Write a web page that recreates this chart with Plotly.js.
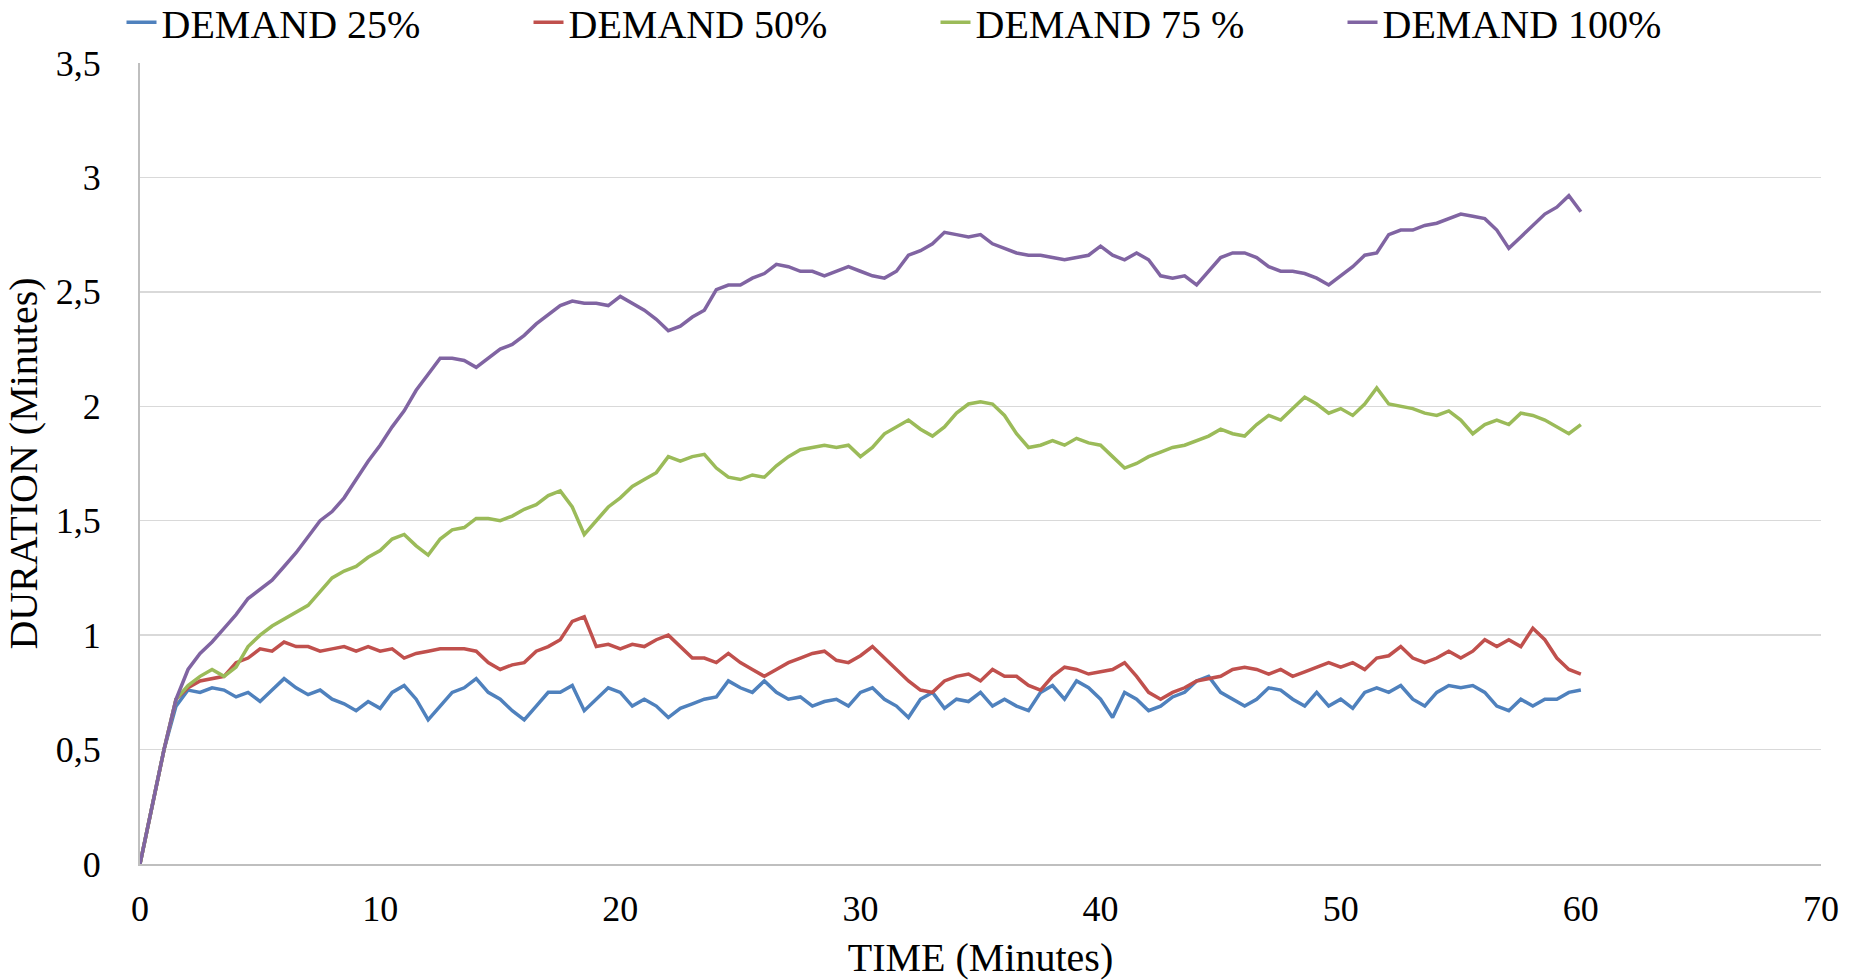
<!DOCTYPE html>
<html>
<head>
<meta charset="utf-8">
<script src="https://cdn.plot.ly/plotly-3.0.1.min.js"></script>
<style>html,body{margin:0;padding:0;background:#fff;}#chart{width:1858px;height:980px;}</style>
</head>
<body>
<div id="chart"></div>
<script>
const TIME = [0,0.5,1,1.5,2,2.5,3,3.5,4,4.5,5,5.5,6,6.5,7,7.5,8,8.5,9,9.5,10,10.5,11,11.5,12,12.5,13,13.5,14,14.5,15,15.5,16,16.5,17,17.5,18,18.5,19,19.5,20,20.5,21,21.5,22,22.5,23,23.5,24,24.5,25,25.5,26,26.5,27,27.5,28,28.5,29,29.5,30,30.5,31,31.5,32,32.5,33,33.5,34,34.5,35,35.5,36,36.5,37,37.5,38,38.5,39,39.5,40,40.5,41,41.5,42,42.5,43,43.5,44,44.5,45,45.5,46,46.5,47,47.5,48,48.5,49,49.5,50,50.5,51,51.5,52,52.5,53,53.5,54,54.5,55,55.5,56,56.5,57,57.5,58,58.5,59,59.5,60];

const DEMAND_25 = [0,0.25,0.5,
0.69,0.76,0.75,0.77,0.76,0.73,0.75,0.71,0.76,0.81,
0.77,0.74,0.76,0.72,0.70,0.67,0.71,0.68,0.75,0.78,
0.72,0.63,0.69,0.75,0.77,0.81,0.75,0.72,0.67,0.63,
0.69,0.75,0.75,0.78,0.67,0.72,0.77,0.75,0.69,0.72,
0.69,0.64,0.68,0.70,0.72,0.73,0.80,0.77,0.75,0.80,
0.75,0.72,0.73,0.69,0.71,0.72,0.69,0.75,0.77,0.72,
0.69,0.64,0.72,0.75,0.68,0.72,0.71,0.75,0.69,0.72,
0.69,0.67,0.75,0.78,0.72,0.80,0.77,0.72,0.64,0.75,
0.72,0.67,0.69,0.73,0.75,0.80,0.82,0.75,0.72,0.69,
0.72,0.77,0.76,0.72,0.69,0.75,0.69,0.72,0.68,0.75,
0.77,0.75,0.78,0.72,0.69,0.75,0.78,0.77,0.78,0.75,
0.69,0.67,0.72,0.69,0.72,0.72,0.75,0.76];

const DEMAND_50 = [0,0.25,0.5,
0.72,0.77,0.80,0.81,0.82,0.88,0.90,0.94,0.93,0.97,
0.95,0.95,0.93,0.94,0.95,0.93,0.95,0.93,0.94,0.90,
0.92,0.93,0.94,0.94,0.94,0.93,0.88,0.85,0.87,0.88,
0.93,0.95,0.98,1.06,1.08,0.95,0.96,0.94,0.96,0.95,
0.98,1.00,0.95,0.90,0.90,0.88,0.92,0.88,0.85,0.82,
0.85,0.88,0.90,0.92,0.93,0.89,0.88,0.91,0.95,0.90,
0.85,0.80,0.76,0.75,0.80,0.82,0.83,0.80,0.85,0.82,
0.82,0.78,0.76,0.82,0.86,0.85,0.83,0.84,0.85,0.88,
0.82,0.75,0.72,0.75,0.77,0.80,0.81,0.82,0.85,0.86,
0.85,0.83,0.85,0.82,0.84,0.86,0.88,0.86,0.88,0.85,
0.90,0.91,0.95,0.90,0.88,0.90,0.93,0.90,0.93,0.98,
0.95,0.98,0.95,1.03,0.98,0.90,0.85,0.83];

const DEMAND_75 = [0,0.25,0.5,
0.72,0.78,0.82,0.85,0.82,0.86,0.95,1.00,1.04,1.07,
1.10,1.13,1.19,1.25,1.28,1.30,1.34,1.37,1.42,1.44,
1.39,1.35,1.42,1.46,1.47,1.51,1.51,1.50,1.52,1.55,
1.57,1.61,1.63,1.56,1.44,1.50,1.56,1.60,1.65,1.68,
1.71,1.78,1.76,1.78,1.79,1.73,1.69,1.68,1.70,1.69,
1.74,1.78,1.81,1.82,1.83,1.82,1.83,1.78,1.82,1.88,
1.91,1.94,1.90,1.87,1.91,1.97,2.01,2.02,2.01,1.96,
1.88,1.82,1.83,1.85,1.83,1.86,1.84,1.83,1.78,1.73,
1.75,1.78,1.80,1.82,1.83,1.85,1.87,1.90,1.88,1.87,
1.92,1.96,1.94,1.99,2.04,2.01,1.97,1.99,1.96,2.01,
2.08,2.01,2.00,1.99,1.97,1.96,1.98,1.94,1.88,1.92,
1.94,1.92,1.97,1.96,1.94,1.91,1.88,1.92];

const DEMAND_100 = [0,0.25,0.5,
0.72,0.85,0.92,0.97,1.03,1.09,1.16,1.20,1.24,1.30,
1.36,1.43,1.50,1.54,1.60,1.68,1.76,1.83,1.91,1.98,
2.07,2.14,2.21,2.21,2.20,2.17,2.21,2.25,2.27,2.31,
2.36,2.40,2.44,2.46,2.45,2.45,2.44,2.48,2.45,2.42,
2.38,2.33,2.35,2.39,2.42,2.51,2.53,2.53,2.56,2.58,
2.62,2.61,2.59,2.59,2.57,2.59,2.61,2.59,2.57,2.56,
2.59,2.66,2.68,2.71,2.76,2.75,2.74,2.75,2.71,2.69,
2.67,2.66,2.66,2.65,2.64,2.65,2.66,2.70,2.66,2.64,
2.67,2.64,2.57,2.56,2.57,2.53,2.59,2.65,2.67,2.67,
2.65,2.61,2.59,2.59,2.58,2.56,2.53,2.57,2.61,2.66,
2.67,2.75,2.77,2.77,2.79,2.80,2.82,2.84,2.83,2.82,
2.77,2.69,2.74,2.79,2.84,2.87,2.92,2.85];

const SERIES_NAMES = ['DEMAND 25%','DEMAND 50%','DEMAND 75 %','DEMAND 100%'];
const SERIES_DATA = [DEMAND_25, DEMAND_50, DEMAND_75, DEMAND_100];
const COLORS = ['#4F81BD','#C0504D','#9BBB59','#8064A2'];

const FONT = 'Liberation Serif, Times New Roman, serif';

const traces = SERIES_DATA.map((ys, i) => ({
  x: TIME, y: ys, type: 'scatter', mode: 'lines', name: SERIES_NAMES[i],
  line: {color: COLORS[i], width: 3.5}
}));

const layout = {
  width: 1858, height: 980,
  paper_bgcolor: '#ffffff', plot_bgcolor: '#ffffff',
  separators: ', ',
  margin: {l: 140, r: 37, t: 63, b: 116, autoexpand: false},
  font: {family: FONT, color: '#000', size: 36},
  showlegend: true,
  legend: {
    orientation: 'h', x: -0.011, xanchor: 'left', y: 1.051, yanchor: 'middle',
    font: {family: FONT, size: 40, color: '#000'},
    entrywidth: 362, entrywidthmode: 'pixels', itemclick: false,
    bgcolor: 'rgba(0,0,0,0)'
  },
  xaxis: {
    range: [0, 70], dtick: 10, tick0: 0, showgrid: false, zeroline: false,
    showline: true, linecolor: '#BFBFBF', linewidth: 2,
    ticks: '', ticklabelstandoff: 12,
    tickfont: {family: FONT, size: 36, color: '#000'},
    title: {text: 'TIME (Minutes)', font: {family: FONT, size: 40, color: '#000'}, standoff: 24}
  },
  yaxis: {
    range: [0, 3.5], dtick: 0.5, tick0: 0, showgrid: true, gridcolor: '#D9D9D9', gridwidth: 1.5,
    zeroline: false, showline: true, linecolor: '#BFBFBF', linewidth: 2,
    ticks: '', ticklabelstandoff: 30,
    tickfont: {family: FONT, size: 36, color: '#000'},
    title: {text: 'DURATION (Minutes)', font: {family: FONT, size: 40, color: '#000'}, standoff: 6}
  }
};

Plotly.newPlot('chart', traces, layout, {displayModeBar: false, staticPlot: true});
</script>
</body>
</html>
